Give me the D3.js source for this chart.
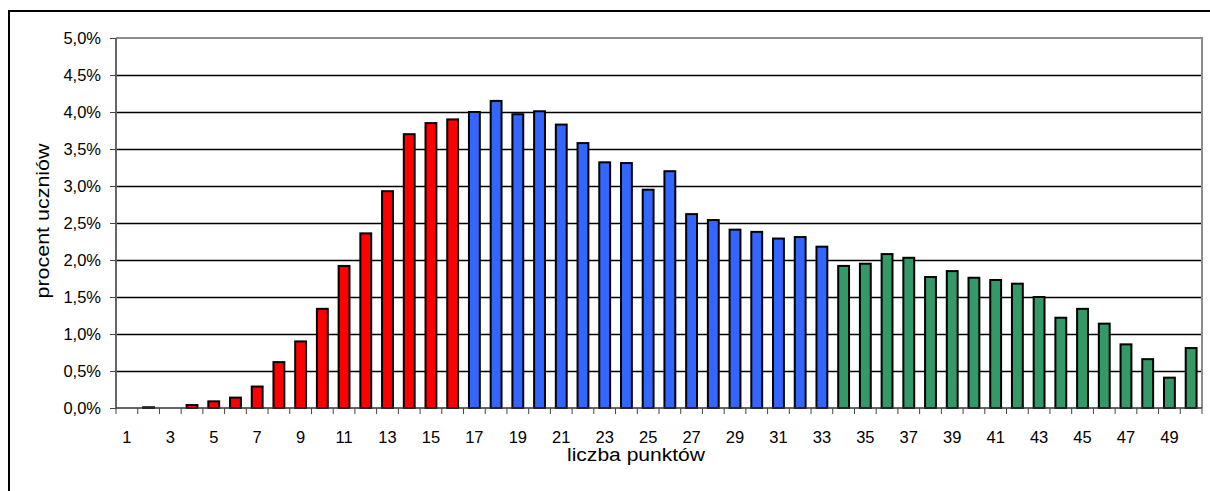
<!DOCTYPE html>
<html><head><meta charset="utf-8">
<script src="https://cdn.jsdelivr.net/npm/d3@7"></script>
<style>body{margin:0;background:#fff;}svg text{font-family:"Liberation Sans",Arial,sans-serif;fill:#000;}</style>
</head><body>
<svg id="c" width="1210" height="491"></svg>
<script>
const categories = d3.range(1, 51);
const values = [0, 0.01, 0, 0.04, 0.09, 0.14, 0.29, 0.62, 0.90, 1.34,
  1.92, 2.36, 2.93, 3.70, 3.85, 3.90, 4.00, 4.15, 3.97, 4.01,
  3.83, 3.58, 3.32, 3.31, 2.95, 3.20, 2.62, 2.54, 2.41, 2.38,
  2.29, 2.31, 2.18, 1.92, 1.95, 2.08, 2.03, 1.77, 1.85, 1.76,
  1.73, 1.68, 1.50, 1.22, 1.34, 1.14, 0.86, 0.66, 0.41, 0.81];
const groupColors = {red: "#ff0000", blue: "#3366ff", green: "#339966"};
const groupOf = k => k <= 16 ? "red" : (k <= 33 ? "blue" : "green");
const yTicks = [0, 0.5, 1, 1.5, 2, 2.5, 3, 3.5, 4, 4.5, 5];
const xLabels = categories.filter(k => k % 2 === 1);

const svg = d3.select("#c");
const L = 116, R = 1202, T = 38, B = 408;
// outer frame
svg.append("rect").attr("x", 9).attr("y", 11).attr("width", 1220).attr("height", 500)
  .attr("fill", "none").attr("stroke", "#000").attr("stroke-width", 2);

const x = d3.scaleBand().domain(categories).range([L, R]).paddingInner(0.5).paddingOuter(0.25);
const xb = d3.scaleBand().domain(categories).range([L, R]);
const y = d3.scaleLinear().domain([0, 5]).range([B, T]);

// gridlines
svg.append("g").selectAll("line").data(yTicks.filter(v => v > 0 && v < 5)).join("line")
  .attr("x1", L).attr("x2", R).attr("y1", d => Math.round(y(d)) + 0.5).attr("y2", d => Math.round(y(d)) + 0.5)
  .attr("stroke", "#000").attr("stroke-width", 1.3);
// top & right plot border
svg.append("path").attr("d", `M${L},${T}H${R}V${B}`).attr("fill", "none")
  .attr("stroke", "#8c8c8c").attr("stroke-width", 2);

// bars
svg.append("g").selectAll("rect").data(categories).join("rect")
  .attr("x", d => x(d)).attr("width", x.bandwidth())
  .attr("y", (d, i) => y(values[i])).attr("height", (d, i) => B - y(values[i]))
  .attr("fill", d => groupColors[groupOf(d)])
  .attr("stroke", "#000").attr("stroke-width", 2)
  .attr("visibility", (d, i) => values[i] > 0 ? "visible" : "hidden");

// y axis
const ya = svg.append("g").attr("transform", `translate(${L},0)`)
  .call(d3.axisLeft(y).tickValues(yTicks).tickSize(6).tickPadding(9)
    .tickFormat(v => d3.format(".1f")(v).replace(".", ",") + "%"));
ya.select(".domain").attr("stroke", "#666").attr("stroke-width", 2).attr("d", `M0,${T}V${B}`);
ya.selectAll(".tick line").attr("stroke", "#444");
ya.selectAll("text").attr("font-size", 16.5).attr("dy", "0.36em");

// x axis
const xa = svg.append("g").attr("transform", `translate(0,${B})`);
xa.append("line").attr("x1", L).attr("x2", R).attr("stroke", "#333").attr("stroke-width", 1.5);
xa.selectAll(".tk").data(categories.concat([51])).join("line").attr("class", "tk")
  .attr("x1", d => d <= 50 ? xb(d) : R).attr("x2", d => d <= 50 ? xb(d) : R)
  .attr("y1", 0).attr("y2", 6).attr("stroke", "#444");
xa.selectAll("text").data(xLabels).join("text")
  .attr("x", d => xb(d) + xb.bandwidth() / 2).attr("y", 35)
  .attr("text-anchor", "middle").attr("font-size", 16.5).text(d => d);

// titles
svg.append("text").attr("x", 636).attr("y", 461).attr("text-anchor", "middle")
  .attr("font-size", 18).attr("textLength", 138).attr("lengthAdjust", "spacingAndGlyphs").text("liczba punktów");
svg.append("text").attr("transform", "translate(49,221) rotate(-90)").attr("text-anchor", "middle")
  .attr("font-size", 18).attr("textLength", 155).attr("lengthAdjust", "spacingAndGlyphs").text("procent uczniów");
</script>
</body></html>
